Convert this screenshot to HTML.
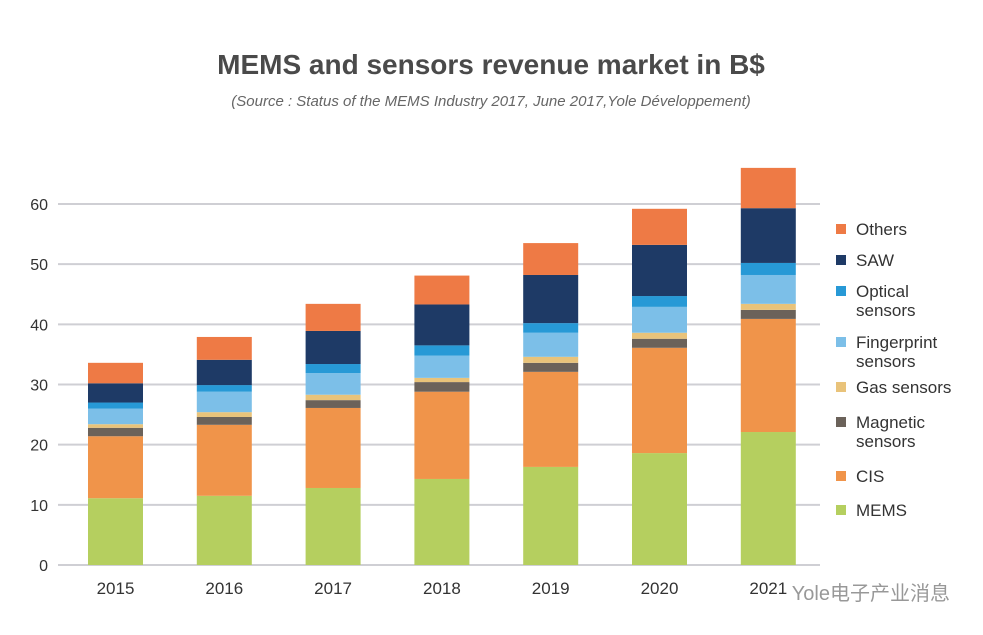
<!DOCTYPE html>
<html><head><meta charset="utf-8">
<style>
body{margin:0;width:983px;height:635px;background:#fff;overflow:hidden;font-family:"Liberation Sans","Noto Sans CJK SC",sans-serif;}
svg{position:absolute;left:0;top:0}
</style></head>
<body>
<svg id="chart" width="983" height="635">
<text x="491" y="74" text-anchor="middle" font-size="28" font-weight="bold" fill="#4a4a4a">MEMS and sensors revenue market in B$</text>
<text x="491" y="106" text-anchor="middle" font-size="15" font-style="italic" fill="#666">(Source : Status of the MEMS Industry 2017, June 2017,Yole Développement)</text>
<g id="grid"></g><g id="bars"></g><g id="legend"></g>
<text x="950" y="600" text-anchor="end" font-size="20" fill="#555" opacity="0.6">Yole电子产业消息</text>
</svg>
<script>
const years=["2015","2016","2017","2018","2019","2020","2021"];
const mems=[11.1,11.5,12.8,14.3,16.3,18.6,22.1];
const cis=[10.3,11.8,13.3,14.5,15.8,17.5,18.8];
const magnetic=[1.4,1.3,1.3,1.6,1.5,1.5,1.5];
const gas=[0.6,0.8,0.9,0.7,1.0,1.0,1.0];
const fingerprint=[2.6,3.4,3.6,3.7,4.0,4.3,4.8];
const optical=[1.0,1.1,1.5,1.7,1.6,1.8,2.0];
const saw=[3.2,4.2,5.5,6.8,8.0,8.5,9.1];
const others=[3.4,3.8,4.5,4.8,5.3,6.0,6.7];
const yTicks=[0,10,20,30,40,50,60];
const seriesNames=["MEMS","CIS","Magnetic","Gas sensors","Fingerprint","Optical","SAW","Others"];
const series=[mems,cis,magnetic,gas,fingerprint,optical,saw,others];
const colors=["#b5cf5f","#f0944a","#6b625a","#e9c37a","#7cbfe8","#2799d6","#1e3a66","#ee7a45"];
const NS="http://www.w3.org/2000/svg";
const y=v=>565-v*6.017;
const x=i=>88+i*108.8;
const bw=55;
function mk(t,a,p){const e=document.createElementNS(NS,t);for(const k in a)e.setAttribute(k,a[k]);p.appendChild(e);return e;}
const grid=document.getElementById('grid');
yTicks.forEach(t=>{
 const l=mk('line',{x1:58,x2:820,y1:y(t),y2:y(t),stroke:'#cfcfd4','stroke-width':2},grid);
 
 
 const tx=mk('text',{x:48,y:y(t)+6,'text-anchor':'end','font-size':16,fill:'#333'},grid);
 tx.textContent=t;
 
 
});
const bars=document.getElementById('bars');
years.forEach((yr,i)=>{
 let acc=0;
 series.forEach((s,j)=>{
  const r=mk('rect',{x:x(i),y:y(acc+s[i]),width:bw,height:y(acc)-y(acc+s[i]),fill:colors[j]},bars);
  
  
  acc+=s[i];
 });
 const t=mk('text',{x:x(i)+bw/2,y:594,'text-anchor':'middle','font-size':17,fill:'#333'},bars);
 t.textContent=yr;
 
 
});
const leg=[["Others"],["SAW"],["Optical","sensors"],["Fingerprint","sensors"],["Gas sensors"],["Magnetic","sensors"],["CIS"],["MEMS"]];
const legY=[229,260,291,342,387,422,476,510];
const legC=[7,6,5,4,3,2,1,0];
const lg=document.getElementById('legend');
leg.forEach((lines,k)=>{
 const g=mk('g',{},lg);
 
 
 mk('rect',{x:836,y:legY[k]-5,width:10,height:10,fill:colors[legC[k]]},g);
 lines.forEach((ln,m)=>{const t=mk('text',{x:856,y:legY[k]+6+m*19,'font-size':17,fill:'#333'},g);t.textContent=ln;});
});
</script>
</body></html>
